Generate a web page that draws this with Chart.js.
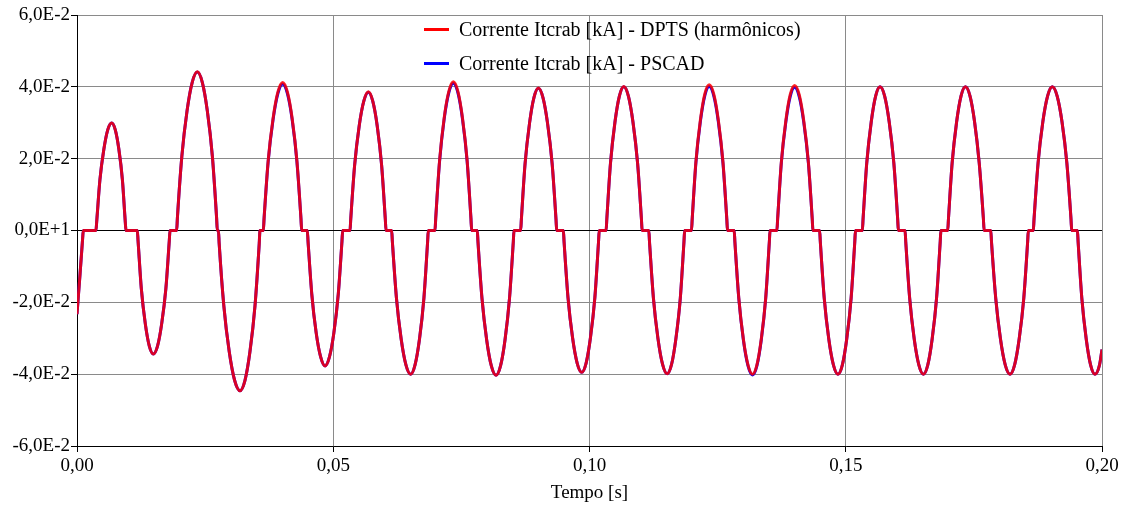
<!DOCTYPE html>
<html>
<head>
<meta charset="utf-8">
<script src="https://cdn.jsdelivr.net/npm/chart.js@4.4.1/dist/chart.umd.min.js"></script>
<style>
  html, body { margin: 0; padding: 0; background: #fff; }
  #wrap { width: 1126px; height: 506px; }
</style>
</head>
<body>
<div id="wrap"><canvas id="c" width="1126" height="506"></canvas></div>
<script>
// ---- data ----
const seriesLabels = ["Corrente Itcrab [kA] - DPTS (harmônicos)", "Corrente Itcrab [kA] - PSCAD"];

const xTickValues = [0, 0.05, 0.10, 0.15, 0.20];
const xTickLabels = ["0,00", "0,05", "0,10", "0,15", "0,20"];
const yTickValues = [-0.06, -0.04, -0.02, 0, 0.02, 0.04, 0.06];
const yTickLabels = ["-6,0E-2", "-4,0E-2", "-2,0E-2", "0,0E+1", "2,0E-2", "4,0E-2", "6,0E-2"];

const time = [
  0, 0.0006, 0.00109, 0.00123,
  0.0037, 0.00384, 0.00447, 0.00524, 0.00600, 0.00677, 0.00747, 0.00817, 0.00886, 0.00942, 0.00956,
  0.01177, 0.01191, 0.01255, 0.01333, 0.01411, 0.01489, 0.01571, 0.01652, 0.01734, 0.01801, 0.01815,
  0.01945, 0.01959, 0.02046, 0.02147, 0.02247, 0.02348, 0.02446, 0.02543, 0.02641, 0.02724, 0.02738,
  0.0276, 0.02774, 0.02865, 0.0297, 0.03075, 0.0318, 0.03278, 0.03375, 0.03473, 0.03556, 0.0357,
  0.03636, 0.0365, 0.0373, 0.03825, 0.03919, 0.04013, 0.04106, 0.04199, 0.04291, 0.0437, 0.04384,
  0.04494, 0.04508, 0.04581, 0.04667, 0.04754, 0.0484, 0.04926, 0.05012, 0.05098, 0.0517, 0.05184,
  0.05327, 0.05341, 0.05417, 0.05506, 0.05596, 0.05685, 0.05771, 0.05858, 0.05944, 0.06016, 0.0603,
  0.0614, 0.06154, 0.06233, 0.06325, 0.06418, 0.0651, 0.06596, 0.06683, 0.06769, 0.06841, 0.06855,
  0.06985, 0.06999, 0.07075, 0.07164, 0.07254, 0.07343, 0.07433, 0.07522, 0.07612, 0.07687, 0.07701,
  0.0781, 0.07824, 0.07902, 0.07993, 0.08085, 0.08176, 0.08264, 0.08352, 0.08439, 0.08513, 0.08527,
  0.08657, 0.08671, 0.08743, 0.0883, 0.08916, 0.09002, 0.09092, 0.09181, 0.09271, 0.09346, 0.0936,
  0.0949, 0.09504, 0.0958, 0.09669, 0.09759, 0.09848, 0.09934, 0.10019, 0.10105, 0.10176, 0.1019,
  0.10324, 0.10338, 0.1041, 0.10497, 0.10583, 0.10669, 0.10759, 0.10848, 0.10938, 0.11013, 0.11027,
  0.11157, 0.11171, 0.11247, 0.11336, 0.11426, 0.11515, 0.11601, 0.11686, 0.11772, 0.11843, 0.11857,
  0.1199, 0.12004, 0.12076, 0.12163, 0.12249, 0.12335, 0.12425, 0.12514, 0.12604, 0.12679, 0.12693,
  0.12823, 0.12837, 0.12913, 0.13002, 0.13092, 0.13181, 0.13267, 0.13352, 0.13438, 0.13509, 0.13523,
  0.13657, 0.13671, 0.13743, 0.1383, 0.13916, 0.14002, 0.14092, 0.14181, 0.14271, 0.14346, 0.1436,
  0.1449, 0.14504, 0.1458, 0.14669, 0.14759, 0.14848, 0.14934, 0.15019, 0.15105, 0.15176, 0.1519,
  0.15324, 0.15338, 0.1541, 0.15497, 0.15583, 0.15669, 0.15759, 0.15848, 0.15938, 0.16013, 0.16027,
  0.16157, 0.16171, 0.16247, 0.16336, 0.16426, 0.16515, 0.16601, 0.16686, 0.16772, 0.16843, 0.16857,
  0.1699, 0.17004, 0.17076, 0.17163, 0.17249, 0.17335, 0.17425, 0.17514, 0.17604, 0.17686, 0.177,
  0.1783, 0.17844, 0.17926, 0.18019, 0.18112, 0.18205, 0.18295, 0.18384, 0.18474, 0.18549, 0.18563,
  0.1866, 0.18674, 0.18753, 0.18845, 0.18938, 0.1903, 0.19125, 0.1922, 0.19314, 0.19395, 0.19409,
  0.1952, 0.19534, 0.19606, 0.19692, 0.19777, 0.19863, 0.19952, 0.2
];

const iPSCAD = [
  -0.0233, -0.0120, -0.0024, 0,
  0, 0.0024, 0.0141, 0.0226, 0.0280, 0.0299, 0.0280, 0.0226, 0.0141, 0.0024, 0,
  0, -0.0028, -0.0162, -0.0260, -0.0322, -0.0344, -0.0322, -0.0260, -0.0162, -0.0028, 0,
  0, 0.0035, 0.0207, 0.0333, 0.0412, 0.0441, 0.0412, 0.0333, 0.0207, 0.0035, 0,
  0, -0.0036, -0.0210, -0.0337, -0.0417, -0.0446, -0.0417, -0.0337, -0.0210, -0.0036, 0,
  0, 0.0033, 0.0192, 0.0308, 0.0381, 0.0408, 0.0381, 0.0308, 0.0192, 0.0033, 0,
  0, -0.0030, -0.0177, -0.0285, -0.0352, -0.0377, -0.0352, -0.0285, -0.0177, -0.0030, 0,
  0, 0.0031, 0.0181, 0.0291, 0.0360, 0.0385, 0.0360, 0.0291, 0.0181, 0.0031, 0,
  0, -0.0032, -0.0188, -0.0302, -0.0374, -0.0400, -0.0374, -0.0302, -0.0188, -0.0032, 0,
  0, 0.0033, 0.0193, 0.0310, 0.0383, 0.0410, 0.0383, 0.0310, 0.0193, 0.0033, 0,
  0, -0.0032, -0.0189, -0.0304, -0.0377, -0.0403, -0.0377, -0.0304, -0.0189, -0.0032, 0,
  0, 0.0032, 0.0186, 0.0299, 0.0370, 0.0396, 0.0370, 0.0299, 0.0186, 0.0032, 0,
  0, -0.0032, -0.0186, -0.0298, -0.0369, -0.0395, -0.0369, -0.0298, -0.0186, -0.0032, 0,
  0, 0.0032, 0.0188, 0.0302, 0.0374, 0.0400, 0.0374, 0.0302, 0.0188, 0.0032, 0,
  0, -0.0032, -0.0188, -0.0301, -0.0373, -0.0399, -0.0373, -0.0301, -0.0188, -0.0032, 0,
  0, 0.0032, 0.0188, 0.0303, 0.0375, 0.0401, 0.0375, 0.0303, 0.0188, 0.0032, 0,
  0, -0.0032, -0.0189, -0.0304, -0.0376, -0.0402, -0.0376, -0.0304, -0.0189, -0.0032, 0,
  0, 0.0032, 0.0188, 0.0301, 0.0373, 0.0399, 0.0373, 0.0301, 0.0188, 0.0032, 0,
  0, -0.0032, -0.0188, -0.0302, -0.0374, -0.0400, -0.0374, -0.0302, -0.0188, -0.0032, 0,
  0, 0.0032, 0.0188, 0.0302, 0.0374, 0.0400, 0.0374, 0.0302, 0.0188, 0.0032, 0,
  0, -0.0032, -0.0188, -0.0302, -0.0374, -0.0400, -0.0374, -0.0302, -0.0188, -0.0032, 0,
  0, 0.0032, 0.0188, 0.0302, 0.0374, 0.0400, 0.0374, 0.0302, 0.0188, 0.0032, 0,
  0, -0.0032, -0.0188, -0.0302, -0.0374, -0.0400, -0.0374, -0.0302, -0.0188, -0.0032, 0,
  0, 0.0032, 0.0188, 0.0302, 0.0374, 0.0400, 0.0374, 0.0302, 0.0188, 0.0032, 0,
  0, -0.0032, -0.0188, -0.0302, -0.0374, -0.0400, -0.0374, -0.0331
];

const iDPTS = [
  -0.0233, -0.0120, -0.0024, 0,
  0, 0.0024, 0.0141, 0.0226, 0.0280, 0.0299, 0.0280, 0.0226, 0.0141, 0.0024, 0,
  0, -0.0028, -0.0162, -0.0260, -0.0322, -0.0344, -0.0322, -0.0260, -0.0162, -0.0028, 0,
  0, 0.0035, 0.0207, 0.0333, 0.0412, 0.0442, 0.0412, 0.0333, 0.0207, 0.0035, 0,
  0, -0.0036, -0.0210, -0.0337, -0.0417, -0.0446, -0.0417, -0.0337, -0.0210, -0.0036, 0,
  0, 0.0033, 0.0194, 0.0311, 0.0385, 0.0412, 0.0385, 0.0311, 0.0194, 0.0033, 0,
  0, -0.0030, -0.0177, -0.0285, -0.0352, -0.0377, -0.0352, -0.0285, -0.0177, -0.0030, 0,
  0, 0.0031, 0.0181, 0.0291, 0.0360, 0.0386, 0.0360, 0.0291, 0.0181, 0.0031, 0,
  0, -0.0032, -0.0188, -0.0302, -0.0374, -0.0400, -0.0374, -0.0302, -0.0188, -0.0032, 0,
  0, 0.0033, 0.0195, 0.0313, 0.0387, 0.0414, 0.0387, 0.0313, 0.0195, 0.0033, 0,
  0, -0.0032, -0.0189, -0.0304, -0.0377, -0.0403, -0.0377, -0.0304, -0.0189, -0.0032, 0,
  0, 0.0032, 0.0186, 0.0299, 0.0370, 0.0397, 0.0370, 0.0299, 0.0186, 0.0032, 0,
  0, -0.0032, -0.0186, -0.0298, -0.0369, -0.0395, -0.0369, -0.0298, -0.0186, -0.0032, 0,
  0, 0.0032, 0.0188, 0.0302, 0.0374, 0.0401, 0.0374, 0.0302, 0.0188, 0.0032, 0,
  0, -0.0032, -0.0188, -0.0301, -0.0373, -0.0399, -0.0373, -0.0301, -0.0188, -0.0032, 0,
  0, 0.0032, 0.0191, 0.0307, 0.0380, 0.0406, 0.0380, 0.0307, 0.0191, 0.0032, 0,
  0, -0.0032, -0.0188, -0.0302, -0.0374, -0.0400, -0.0374, -0.0302, -0.0188, -0.0032, 0,
  0, 0.0032, 0.0190, 0.0305, 0.0378, 0.0404, 0.0378, 0.0305, 0.0190, 0.0032, 0,
  0, -0.0032, -0.0188, -0.0302, -0.0374, -0.0400, -0.0374, -0.0302, -0.0188, -0.0032, 0,
  0, 0.0032, 0.0188, 0.0302, 0.0374, 0.0400, 0.0374, 0.0302, 0.0188, 0.0032, 0,
  0, -0.0032, -0.0188, -0.0302, -0.0374, -0.0400, -0.0374, -0.0302, -0.0188, -0.0032, 0,
  0, 0.0032, 0.0188, 0.0302, 0.0374, 0.0400, 0.0374, 0.0302, 0.0188, 0.0032, 0,
  0, -0.0032, -0.0188, -0.0302, -0.0374, -0.0400, -0.0374, -0.0302, -0.0188, -0.0032, 0,
  0, 0.0032, 0.0188, 0.0302, 0.0374, 0.0400, 0.0374, 0.0302, 0.0188, 0.0032, 0,
  0, -0.0032, -0.0188, -0.0302, -0.0374, -0.0400, -0.0374, -0.0331
];

// ---- chart ----
const FONT = "'Liberation Serif', 'Times New Roman', serif";
Chart.defaults.font.family = FONT;
Chart.defaults.font.size = 19;
Chart.defaults.color = '#000';

const toXY = (xs, ys) => xs.map((x, i) => ({ x: x, y: ys[i] }));

const twoRowLegend = {
  id: 'twoRowLegend',
  afterDraw(chart) {
    const ctx = chart.ctx;
    const rows = [29.5, 63.5];
    ctx.save();
    chart.data.datasets.forEach((ds, i) => {
      const y = rows[i];
      ctx.strokeStyle = ds.legendColor;
      ctx.lineWidth = 3;
      ctx.beginPath();
      ctx.moveTo(424, y);
      ctx.lineTo(449, y);
      ctx.stroke();
      ctx.fillStyle = '#000';
      ctx.font = "20px " + FONT;
      ctx.textBaseline = 'middle';
      ctx.textAlign = 'left';
      ctx.fillText(ds.label, 459, y + 1);
    });
    ctx.restore();
  }
};

new Chart(document.getElementById('c'), {
  type: 'line',
  data: {
    datasets: [
      {
        label: seriesLabels[0],
        data: toXY(time, iDPTS),
        borderColor: 'rgba(255,0,0,0.85)',
        legendColor: '#ff0000',
        borderWidth: 3,
        pointRadius: 0,
        fill: false,
        tension: 0.4,
        cubicInterpolationMode: 'monotone'
      },
      {
        label: seriesLabels[1],
        data: toXY(time, iPSCAD),
        borderColor: '#0000ff',
        legendColor: '#0000ff',
        borderWidth: 3,
        pointRadius: 0,
        fill: false,
        tension: 0.4,
        cubicInterpolationMode: 'monotone'
      }
    ]
  },
  options: {
    responsive: false,
    animation: false,
    events: [],
    layout: { padding: { left: 0, top: 15, right: 24, bottom: 0 } },
    plugins: {
      legend: { display: false },
      tooltip: { enabled: false },
      title: { display: false }
    },
    scales: {
      x: {
        type: 'linear',
        min: 0,
        max: 0.2,
        afterBuildTicks: s => { s.ticks = xTickValues.map(v => ({ value: v })); },
        afterFit: s => { s.height = 60; },
        ticks: {
          callback: (v, i) => xTickLabels[i],
          padding: 3,
          maxRotation: 0,
          autoSkip: false,
          font: { size: 19 }
        },
        grid: {
          color: '#8a8a8a',
          lineWidth: 1,
          tickLength: 6,
          tickColor: '#000'
        },
        border: { display: true, color: '#000', width: 1 },
        title: {
          display: true,
          text: 'Tempo [s]',
          font: { size: 19 },
          padding: { top: 0, bottom: 2 }
        }
      },
      y: {
        type: 'linear',
        min: -0.06,
        max: 0.06,
        afterBuildTicks: s => { s.ticks = yTickValues.map(v => ({ value: v })); },
        afterFit: s => { s.width = 77; },
        ticks: {
          callback: (v, i) => yTickLabels[i],
          padding: 1,
          autoSkip: false,
          font: { size: 19 }
        },
        grid: {
          color: ctx => (ctx.index === 3 ? '#000' : '#8a8a8a'),
          lineWidth: 1,
          tickLength: 6,
          tickColor: '#000'
        },
        border: { display: true, color: '#000', width: 1 }
      }
    }
  },
  plugins: [twoRowLegend]
});
</script>
</body>
</html>
